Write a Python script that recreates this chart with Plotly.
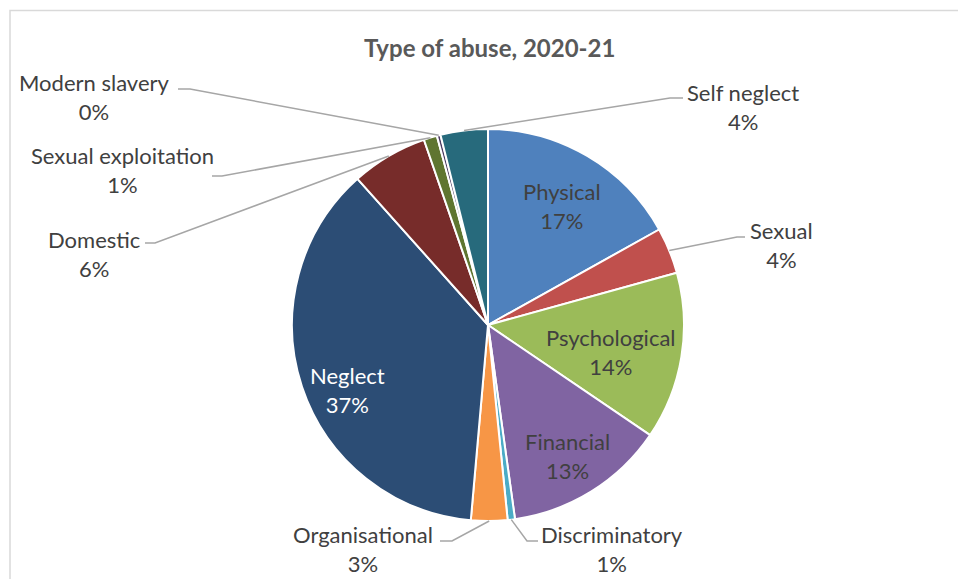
import math
import plotly.graph_objects as go

# Abuse categories (clockwise from 12 o'clock) and their shares
categories = ["Physical", "Sexual", "Psychological", "Financial", "Discriminatory",
              "Organisational", "Neglect", "Domestic", "Sexual exploitation",
              "Modern slavery", "Self neglect"]
shares = [16.9, 3.8, 13.8, 13.3, 0.6, 3.0, 37.0, 6.3, 1.1, 0.3, 3.9]
colors = ["#4F81BD", "#C0504D", "#9BBB59", "#8064A2", "#4BACC6", "#F79646",
          "#2C4D75", "#772C2A", "#5F7530", "#4D3B62", "#276A7C"]
title_text = "Type of abuse, 2020-21"

# Canvas geometry (pixels)
W, H = 958, 579
CX, CY, R = 488, 325, 196

# Label centres in pixel space
label_pos = {
    "Physical": (562, 206), "Sexual": (781, 245), "Psychological": (611, 352),
    "Financial": (567, 456), "Discriminatory": (612, 549),
    "Organisational": (363, 549), "Neglect": (347, 390), "Domestic": (94, 254),
    "Sexual exploitation": (122, 170), "Modern slavery": (94, 97),
    "Self neglect": (743, 107),
}
# Labels drawn in white on dark slices
light_labels = {"Neglect"}
# Leader line elbow and end points for labels placed outside the pie
leaders = {
    "Self neglect": [(670, 98), (683, 98)],
    "Sexual": [(737, 237), (745, 237)],
    "Discriminatory": [(527, 541), (538, 541)],
    "Organisational": [(452, 541), (440, 541)],
    "Domestic": [(155, 243), (145, 243)],
    "Sexual exploitation": [(222, 176), (212, 176)],
    "Modern slavery": [(190, 89), (178, 89)],
}

FONT = "Lato"
TEXT_COLOR = "#404040"
LEADER_COLOR = "#A6A6A6"

fig = go.Figure()
fig.add_trace(go.Pie(
    labels=categories, values=shares, sort=False, direction="clockwise",
    rotation=0, textinfo="none", hoverinfo="label+percent",
    marker=dict(colors=colors, line=dict(color="white", width=2)),
    domain=dict(x=[(CX - R) / W, (CX + R) / W],
                y=[1 - (CY + R) / H, 1 - (CY - R) / H]),
    showlegend=False,
))

total = sum(shares)
annotations = []
shapes = []
cum = 0.0
for name, v in zip(categories, shares):
    mid = (cum + v / 2) / total * 2 * math.pi
    cum += v
    pct = round(v / total * 100)
    lx, ly = label_pos[name]
    annotations.append(dict(
        x=lx, y=ly, xref="x", yref="y", text=f"{name}<br>{pct}%",
        showarrow=False, xanchor="center", yanchor="middle",
        font=dict(family=FONT, size=22,
                  color="white" if name in light_labels else TEXT_COLOR),
    ))
    if name in leaders:
        ex = CX + R * math.sin(mid)
        ey = CY - R * math.cos(mid)
        pts = [(ex, ey)] + leaders[name]
        path = "M " + " L ".join(f"{px:.1f},{py:.1f}" for px, py in pts)
        shapes.append(dict(type="path", path=path, xref="x", yref="y",
                           line=dict(color=LEADER_COLOR, width=1.5)))

annotations.append(dict(
    x=489, y=47, xref="x", yref="y", text=f"<b>{title_text}</b>",
    showarrow=False, xanchor="center", yanchor="middle",
    font=dict(family=FONT, size=24, color="#595959"),
))

# Chart frame
shapes.append(dict(type="rect", xref="x", yref="y", x0=10, y0=10.5, x1=W + 20, y1=H + 20,
                   line=dict(color="#D9D9D9", width=1.5), layer="below"))

fig.update_layout(
    width=W, height=H, margin=dict(l=0, r=0, t=0, b=0),
    paper_bgcolor="white", plot_bgcolor="white",
    xaxis=dict(range=[0, W], visible=False, fixedrange=True, domain=[0, 1]),
    yaxis=dict(range=[H, 0], visible=False, fixedrange=True, domain=[0, 1]),
    annotations=annotations, shapes=shapes,
)

fig.write_html("out.html")
